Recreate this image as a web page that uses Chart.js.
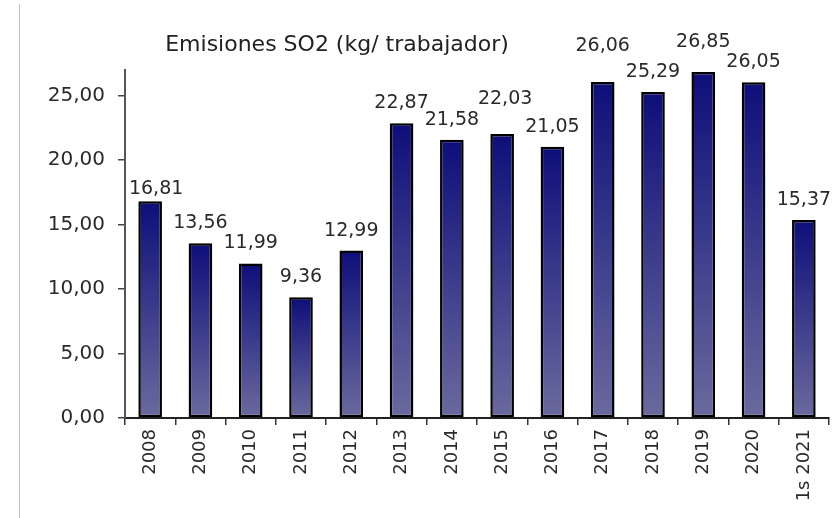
<!DOCTYPE html>
<html>
<head>
<meta charset="utf-8">
<script src="https://cdn.jsdelivr.net/npm/chart.js@4/dist/chart.umd.min.js"></script>
<style>
  html, body { margin: 0; padding: 0; background: #ffffff; }
  #wrap { width: 832px; height: 518px; position: relative; }
</style>
</head>
<body>
<div id="wrap"><canvas id="c" width="832" height="518"></canvas></div>
<script>
// ---- data ----
const categories = ['2008','2009','2010','2011','2012','2013','2014','2015','2016','2017','2018','2019','2020','1s 2021'];
const emisionesSO2 = [16.81, 13.56, 11.99, 9.36, 12.99, 22.87, 21.58, 22.03, 21.05, 26.06, 25.29, 26.85, 26.05, 15.37];
const yTicks = [0, 5, 10, 15, 20, 25];
const chartTitle = 'Emisiones SO2 (kg/ trabajador)';

// label placement tweaks (pixels, as in the reference's manual label positions)
const labelLift   = [-8, 0, 0, 0, 0, 0, 0, 15, 0, 16, 0, 10, 0, 0];
const labelShiftX = [ 6, 0, 0, 0, 0, 0, 0, 3, 0, 0, 0, 0, 0, 0];

const FONT = '"DejaVu Sans", Verdana, sans-serif';
const fmt = v => v.toFixed(2).replace('.', ',');

function barGradient(ctx) {
  const chart = ctx.chart;
  const y = chart.scales && chart.scales.y;
  if (ctx.type !== 'data' || !y || !chart.chartArea) return '#2a2a84';
  const top = y.getPixelForValue(ctx.raw);
  const bottom = y.getPixelForValue(0);
  if (!isFinite(top) || !isFinite(bottom) || top === bottom) return '#2a2a84';
  const g = chart.ctx.createLinearGradient(0, top, 0, bottom);
  g.addColorStop(0, '#0e0e7a');
  g.addColorStop(1, '#6a6a9e');
  return g;
}

const extras = {
  id: 'extras',
  beforeDraw(chart) {
    const c = chart.ctx;
    c.save();
    c.strokeStyle = '#c4c4c4';
    c.lineWidth = 1;
    c.beginPath();
    c.moveTo(19.5, 4);
    c.lineTo(19.5, 518);
    c.stroke();
    c.restore();
  },
  afterDatasetsDraw(chart) {
    const c = chart.ctx;
    const meta = chart.getDatasetMeta(0);
    c.save();
    c.font = '19px ' + FONT;
    c.fillStyle = '#2a2a2a';
    c.textAlign = 'center';
    c.textBaseline = 'alphabetic';
    meta.data.forEach((bar, i) => {
      const v = emisionesSO2[i];
      c.fillText(fmt(v), bar.x + labelShiftX[i], bar.y - 15 - labelLift[i]);
    });
    // title
    c.font = '22px ' + FONT;
    c.fillStyle = '#222222';
    c.fillText(chartTitle, 337, 51);
    c.restore();
  }
};

new Chart(document.getElementById('c'), {
  type: 'bar',
  data: {
    labels: categories,
    datasets: [{
      data: emisionesSO2,
      backgroundColor: barGradient,
      borderColor: '#000000',
      borderWidth: 2.5,
      borderSkipped: false,
      barPercentage: 0.47,
      categoryPercentage: 1.0
    }]
  },
  options: {
    responsive: false,
    animation: false,
    devicePixelRatio: 1,
    layout: { padding: { top: 70, right: 3, bottom: 0, left: 0 } },
    plugins: {
      legend: { display: false },
      title: { display: false },
      tooltip: { enabled: false }
    },
    scales: {
      x: {
        offset: true,
        afterFit: s => { s.height = 100; },
        grid: {
          offset: true,
          drawOnChartArea: false,
          drawTicks: true,
          tickLength: 7,
          color: '#333333',
          lineWidth: 1.5
        },
        border: { display: true, color: '#222222', width: 2 },
        ticks: {
          minRotation: 90,
          maxRotation: 90,
          padding: 4,
          color: '#2a2a2a',
          font: { family: FONT, size: 18 }
        }
      },
      y: {
        min: 0,
        max: 27,
        afterFit: s => { s.width = 125; },
        afterBuildTicks: s => { s.ticks = yTicks.map(v => ({ value: v })); },
        grid: {
          drawOnChartArea: false,
          drawTicks: true,
          tickLength: 7,
          color: '#444444',
          lineWidth: 1.5
        },
        border: { display: true, color: '#555555', width: 2 },
        ticks: {
          padding: 13,
          color: '#2a2a2a',
          font: { family: FONT, size: 20 },
          callback: v => fmt(v)
        }
      }
    }
  },
  plugins: [extras]
});
</script>
</body>
</html>
